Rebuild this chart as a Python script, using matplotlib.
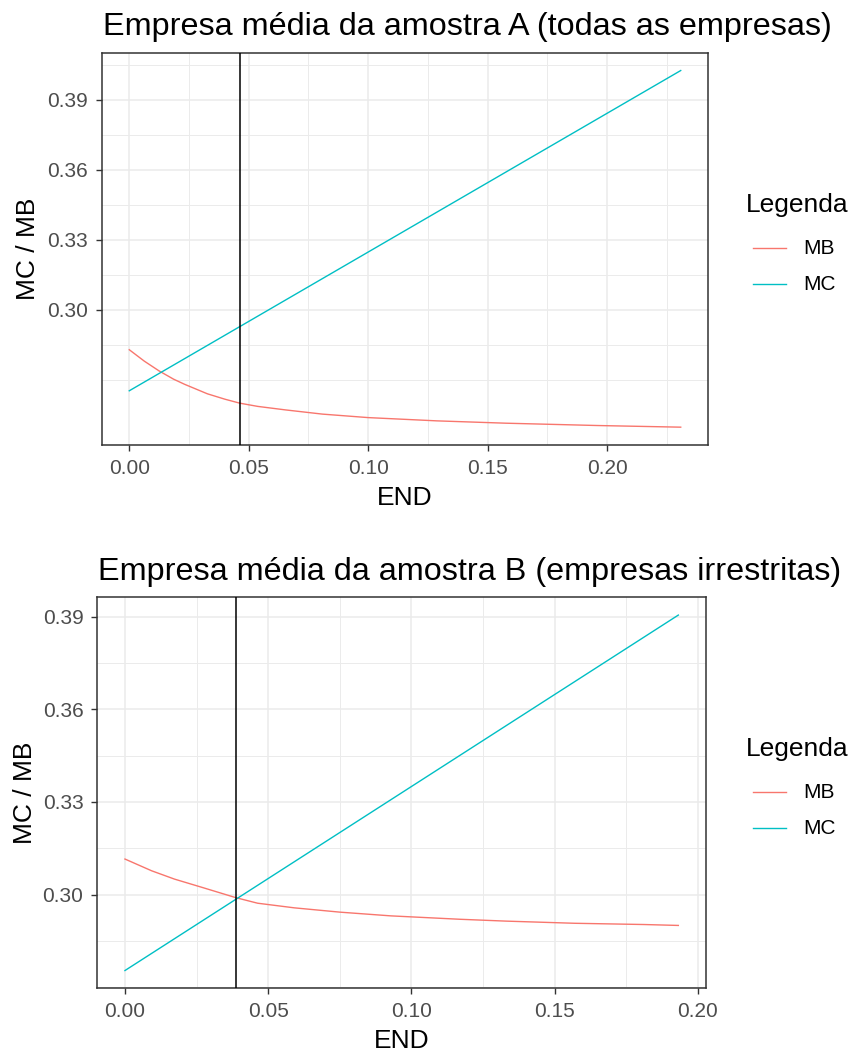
import matplotlib
matplotlib.use("Agg")
import matplotlib.pyplot as plt
from matplotlib.lines import Line2D
import numpy as np

plt.rcParams['font.family'] = ['Liberation Sans', 'DejaVu Sans']

# painel A - todas as empresas
end_a = [0.0, 0.0063, 0.0125, 0.0185, 0.0231, 0.0327, 0.0400, 0.0462, 0.0538,
         0.0654, 0.0808, 0.100, 0.1288, 0.1577, 0.1962, 0.2308]
mb_a = [0.2829, 0.2780, 0.2738, 0.2703, 0.2681, 0.2640, 0.2617, 0.2600, 0.2586,
        0.2571, 0.2553, 0.2538, 0.2524, 0.2514, 0.2504, 0.2497]
mc_end_a = [0.0, 0.2308]
mc_a = [0.2653, 0.4026]
otimo_a = 0.0463

# painel B - empresas irrestritas
end_b = [0.0, 0.0093, 0.0173, 0.027, 0.0387, 0.0463, 0.0591, 0.0751, 0.0928,
         0.1169, 0.1330, 0.157, 0.1811, 0.1932]
mb_b = [0.3115, 0.3077, 0.3050, 0.3023, 0.2990, 0.2972, 0.2957, 0.2943, 0.2931,
        0.2920, 0.2914, 0.2907, 0.2903, 0.2900]
mc_end_b = [0.0, 0.1932]
mc_b = [0.2754, 0.3905]
otimo_b = 0.0386

titulos = ["Empresa média da amostra A (todas as empresas)",
           "Empresa média da amostra B (empresas irrestritas)"]
y_breaks = [0.30, 0.33, 0.36, 0.39]
x_breaks = [0.0, 0.05, 0.10, 0.15, 0.20]

cor_mb = "#F8766D"
cor_mc = "#00BFC4"
W, H = 854, 1057

fig = plt.figure(figsize=(W / 100, H / 100), dpi=100)


def px(x, y):
    return x / W, 1 - y / H


def expandir(vals, f=0.05):
    lo, hi = min(vals), max(vals)
    d = (hi - lo) * f
    return lo - d, hi + d


def painel(rect, x, mb, xmc, mc, vline, titulo, leg_y, ylab_x):
    l, t, r, b = rect
    ax = fig.add_axes([l / W, 1 - b / H, (r - l) / W, (b - t) / H])
    ax.plot(x, mb, color=cor_mb, lw=1.0, zorder=3)
    ax.plot(xmc, mc, color=cor_mc, lw=1.0, zorder=3)
    ax.axvline(vline, color="black", lw=1.1, zorder=4)

    ax.set_xticks(x_breaks)
    ax.set_xticklabels(["%.2f" % v for v in x_breaks])
    ax.set_yticks(y_breaks)
    ax.set_yticklabels(["%.2f" % v for v in y_breaks])
    ax.set_xticks(np.arange(0.025, 0.25, 0.05), minor=True)
    ax.set_yticks(np.arange(0.27, 0.43, 0.015), minor=True)
    ax.set_xlim(*expandir(list(x) + list(xmc) + [vline]))
    ax.set_ylim(*expandir(list(mb) + list(mc)))

    ax.grid(which="major", color="#EBEBEB", lw=1.1, zorder=0)
    ax.grid(which="minor", color="#EBEBEB", lw=0.7, zorder=0)
    ax.set_axisbelow(True)
    ax.tick_params(which="major", length=4, width=1.0, color="#333333",
                   labelsize=15, labelcolor="#4D4D4D", pad=6)
    ax.tick_params(which="minor", length=0)
    for s in ax.spines.values():
        s.set_color("#333333")
        s.set_linewidth(1.1)

    fig.text(*px(l + 1, t - 17.5), titulo, fontsize=23.3, ha="left",
             va="baseline")
    fig.text(*px((l + r) / 2, b + 53), "END", fontsize=19, ha="center",
             va="center")
    fig.text(*px(ylab_x, (t + b) / 2), "MC / MB", fontsize=19, rotation=90,
             ha="center", va="center")

    # legenda
    fig.text(*px(746, leg_y), "Legenda", fontsize=19, ha="left", va="center")
    for i, (nome, cor) in enumerate([("MB", cor_mb), ("MC", cor_mc)]):
        yy = leg_y + 43 + i * 36
        x0, y0 = px(753, yy)
        x1, _ = px(786, yy)
        fig.add_artist(Line2D([x0, x1], [y0, y0], color=cor, lw=1.0,
                              transform=fig.transFigure))
        fig.text(*px(803, yy), nome, fontsize=15, ha="left", va="center")
    return ax


painel((101.7, 52.7, 708.3, 445), end_a, mb_a, mc_end_a, mc_a, otimo_a,
       titulos[0], 205, 28)
painel((97.3, 597.3, 706, 988.3), end_b, mb_b, mc_end_b, mc_b, otimo_b,
       titulos[1], 749, 25)

fig.savefig("out.png", dpi=100)
